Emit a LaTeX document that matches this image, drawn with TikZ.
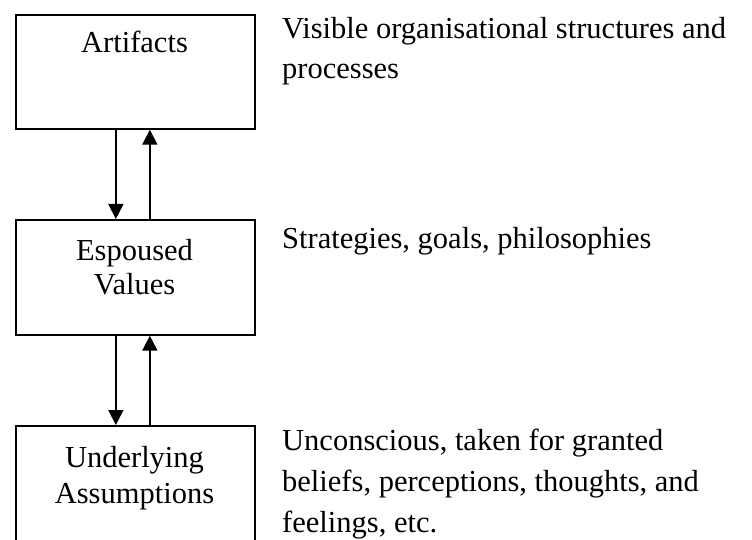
\documentclass[tikz,border=0pt]{standalone}
\usepackage{fontspec}
\setmainfont{Liberation Serif}
\usetikzlibrary{arrows.meta}
\begin{document}
\begin{tikzpicture}[x=1pt,y=-1pt,
  levelbox/.style={draw=black,line width=1.7pt,minimum width=239pt,anchor=north west,inner sep=0pt},
  boxtext/.style={font=\fontsize{30.5}{35}\selectfont,anchor=base,inner sep=0pt},
  sidetext/.style={font=\fontsize{30.5}{41}\selectfont,anchor=base west,inner sep=0pt},
  flow/.style={line width=1.7pt,-{Triangle[width=15pt,length=15pt]}}]
\path[use as bounding box] (0,0) rectangle (752,540);
\clip (0,0) rectangle (752,540);
\fill[white] (0,0) rectangle (752,540);

% the three levels
\node[levelbox,minimum height=114pt] (art) at (15,14) {};
\node[levelbox,minimum height=115pt] (esp) at (15,219) {};
\node[levelbox,minimum height=125pt] (und) at (15,425) {};

% level names
\node[boxtext] (artA) at (134.5,53) {Artifacts};
\node[boxtext] (espA) at (134.5,260) {Espoused};
\node[boxtext] (espB) at (134.5,294) {Values};
\node[boxtext] (undA) at (134.5,467) {Underlying};
\node[boxtext] (undB) at (134.5,503) {Assumptions};

% links between levels
\draw[flow] ([xshift=-19.5pt]art.south) -- ([xshift=-19.5pt]esp.north);
\draw[flow] ([xshift=14.5pt]esp.north) -- ([xshift=14.5pt]art.south);
\draw[flow] ([xshift=-19.5pt]esp.south) -- ([xshift=-19.5pt]und.north);
\draw[flow] ([xshift=14.5pt]und.north) -- ([xshift=14.5pt]esp.south);

% descriptions
\node[sidetext] (artD1) at (282,39) {Visible organisational structures and};
\node[sidetext] (artD2) at (282,79) {processes};
\node[sidetext] (espD1) at (282,248) {Strategies, goals, philosophies};
\node[sidetext] (undD1) at (282,450) {Unconscious, taken for granted};
\node[sidetext] (undD2) at (282,491) {beliefs, perceptions, thoughts, and};
\node[sidetext] (undD3) at (282,532) {feelings, etc.};
\end{tikzpicture}
\end{document}
